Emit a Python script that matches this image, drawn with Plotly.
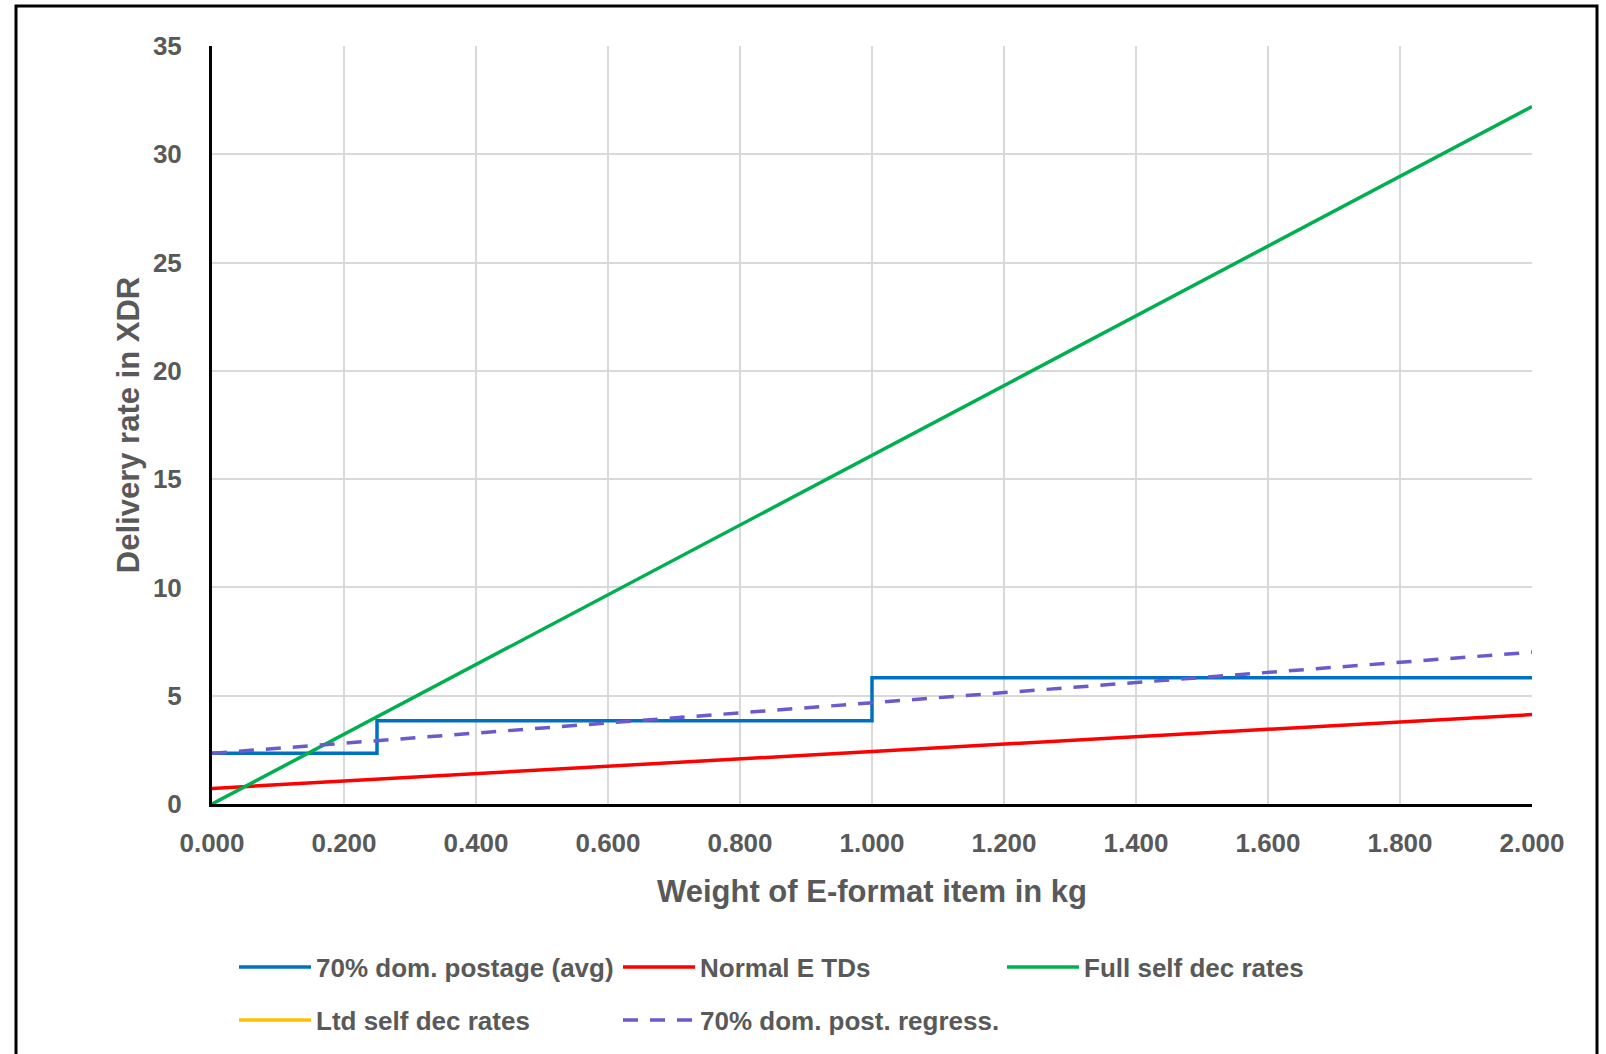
import plotly.graph_objects as go

# Data
blue_x = [0.0, 0.25, 1.0, 2.0]
blue_y = [2.34, 3.84, 5.83, 5.83]
red_x = [0.0, 2.0]
red_y = [0.72, 4.13]
green_x = [0.0, 2.0]
green_y = [0.0, 32.2]
ltd_x = [None]
ltd_y = [None]
regr_x = [0.0, 2.0]
regr_y = [2.34, 7.01]

names = ["70% dom. postage (avg)", "Normal E TDs", "Full self dec rates",
         "Ltd self dec rates", "70% dom. post. regress."]

FONT = "Liberation Sans Narrow, Arial Narrow, Liberation Sans, Arial, sans-serif"
GRAY = "#595959"

fig = go.Figure()
fig.add_trace(go.Scatter(x=blue_x, y=blue_y, mode="lines", line_shape="hv",
                         name=names[0], legend="legend",
                         line=dict(color="#0070C0", width=3.5)))
fig.add_trace(go.Scatter(x=red_x, y=red_y, mode="lines",
                         name=names[1], legend="legend",
                         line=dict(color="#FF0000", width=3.5)))
fig.add_trace(go.Scatter(x=green_x, y=green_y, mode="lines",
                         name=names[2], legend="legend",
                         line=dict(color="#00B050", width=3.5)))
fig.add_trace(go.Scatter(x=ltd_x, y=ltd_y, mode="lines",
                         name=names[3], legend="legend2",
                         line=dict(color="#FFC000", width=3.5)))
fig.add_trace(go.Scatter(x=regr_x, y=regr_y, mode="lines",
                         name=names[4], legend="legend2",
                         line=dict(color="#6A5ACD", width=3.5, dash="15px,12px")))

W, H = 1606, 1054
L, R, T, B = 212, 74, 46, 250
pw, ph = W - L - R, H - T - B

leg_common = dict(orientation="h", xanchor="left", yanchor="middle",
                  x=(234 - L) / pw,
                  entrywidth=297, entrywidthmode="pixels",
                  font=dict(family=FONT, size=26, color=GRAY, weight="bold"),
                  itemwidth=72, bgcolor="rgba(0,0,0,0)")

fig.update_layout(
    width=W, height=H,
    margin=dict(l=L, r=R, t=T, b=B, autoexpand=False),
    paper_bgcolor="white", plot_bgcolor="white",
    font=dict(family=FONT, size=26, color=GRAY),
    xaxis=dict(range=[0, 2.0], dtick=0.2, tickformat=".3f", showgrid=True,
               gridcolor="#D9D9D9", gridwidth=2, zeroline=False,
               showline=True, linecolor="black", linewidth=3,
               mirror=False, ticks="", ticklen=0, ticklabelstandoff=14,
               tickfont=dict(family=FONT, size=26, color=GRAY, weight="bold"),
               title=dict(text="<b>Weight of E-format item in kg</b>",
                          font=dict(family=FONT, size=31, color=GRAY), standoff=24)),
    yaxis=dict(range=[0, 35], dtick=5, showgrid=True,
               gridcolor="#D9D9D9", gridwidth=2, zeroline=False,
               showline=True, linecolor="black", linewidth=3, ticks="",
               ticklabelstandoff=22,
               tickfont=dict(family=FONT, size=26, color=GRAY, weight="bold"),
               title=dict(text="<b>Delivery rate in XDR</b>",
                          font=dict(family=FONT, size=31, color=GRAY), standoff=5)),
    legend=dict(leg_common, y=(H - B - 967) / ph),
    legend2=dict(leg_common, y=(H - B - 1020) / ph),
    showlegend=True,
)

# outer chart frame
fig.add_shape(type="rect", xref="paper", yref="paper",
              x0=(16 - L) / pw, x1=(1597 - L) / pw,
              y0=(H - B - 1064) / ph, y1=(H - B - 6) / ph,
              line=dict(color="black", width=3), fillcolor="rgba(0,0,0,0)", layer="below")

fig.write_html("out.html", config={"displayModeBar": False},
               post_script="document.body.style.margin='0';document.body.style.overflow='hidden';")
